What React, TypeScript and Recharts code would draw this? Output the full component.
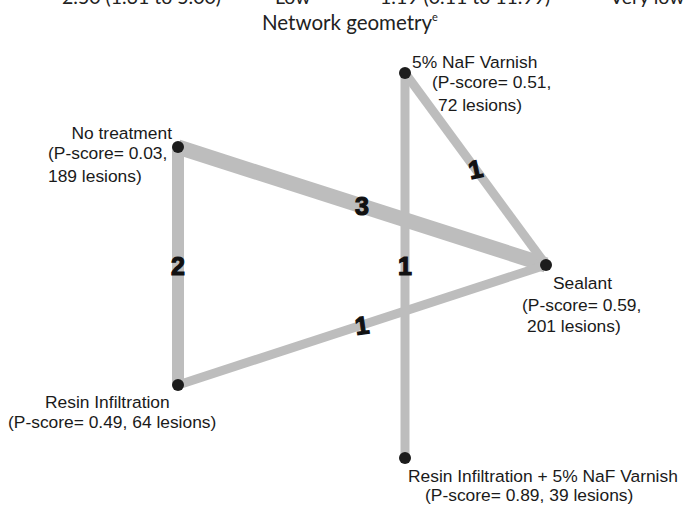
import React from "react";
import { ScatterChart, Scatter, XAxis, YAxis, ReferenceLine } from "recharts";

// Network nodes: layout position (x, y) in the figure's layout units
const nodeIds = ["noTx", "naf", "sealant", "resin", "resinNaf"];
const nodeX = [178, 405, 546, 178, 405];
const nodeY = [147, 73, 265, 385, 458];
const nodeNames = [
  "No treatment",
  "5% NaF Varnish",
  "Sealant",
  "Resin Infiltration",
  "Resin Infiltration + 5% NaF Varnish",
];
const pScores = ["0.03", "0.51", "0.59", "0.49", "0.89"];
const lesions = [189, 72, 201, 64, 39];

// Edges: pairs of node indices and number of studies
const edgeFrom = [0, 0, 1, 3, 1];
const edgeTo = [2, 3, 2, 2, 4];
const edgeStudies = [3, 2, 1, 1, 1];

// Text of the (cropped) table row above the title
const topRowTexts = ["2.50 (1.31 to 5.00)", "Low", "1.19 (0.11 to 11.99)", "Very low"];

// ---- styling / layout (not data) ----
const W = 683;
const H = 509;
const EDGE_COLOR = "#bdbdbd";
const widthFor = (n: number) => (n === 3 ? 15 : n === 2 ? 12 : 9);
const LABEL_FONT = "'Liberation Sans', Arial, sans-serif";
const LABEL_SIZE = 17.4;

type LineSpec = { dx: number; dy: number; anchor: "start" | "end" | "middle" };
const labelLayout: Record<string, LineSpec[]> = {
  noTx: [
    { dx: -6, dy: -8, anchor: "end" },
    { dx: -130, dy: 12, anchor: "start" },
    { dx: -130, dy: 35, anchor: "start" },
  ],
  naf: [
    { dx: 7, dy: -5, anchor: "start" },
    { dx: 27, dy: 15, anchor: "start" },
    { dx: 33, dy: 38, anchor: "start" },
  ],
  sealant: [
    { dx: 7, dy: 24, anchor: "start" },
    { dx: -24, dy: 46, anchor: "start" },
    { dx: -19, dy: 67, anchor: "start" },
  ],
  resin: [
    { dx: -133, dy: 23, anchor: "start" },
    { dx: -170, dy: 43, anchor: "start" },
  ],
  resinNaf: [
    { dx: 3, dy: 24, anchor: "start" },
    { dx: 20, dy: 43, anchor: "start" },
  ],
};
const topRowX = [62, 275, 380, 610];
const edgeLabelTilt = [0, 0, -12, -8, 0];

const nodes = nodeIds.map((id, i) => {
  const ps = `(P-score= ${pScores[i]},`;
  const les = `${lesions[i]} lesions)`;
  const lines =
    id === "resin" || id === "resinNaf"
      ? [nodeNames[i], `(P-score= ${pScores[i]}, ${les}`]
      : [nodeNames[i], ps, les];
  return { id, x: nodeX[i], y: nodeY[i], lines };
});

const edges = edgeFrom.map((f, i) => ({
  a: { x: nodeX[f], y: nodeY[f] },
  b: { x: nodeX[edgeTo[i]], y: nodeY[edgeTo[i]] },
  n: edgeStudies[i],
  tilt: edgeLabelTilt[i],
}));

const edgeMid = edges.map((e) => ({
  x: (e.a.x + e.b.x) / 2,
  y: (e.a.y + e.b.y) / 2,
  n: e.n,
  tilt: e.tilt,
}));

const NodeShape = (props: any) => {
  const { cx, cy, payload } = props;
  const layout = labelLayout[payload.id];
  return (
    <g>
      <circle cx={cx} cy={cy} r={6} fill="#1c1c1c" />
      {payload.lines.map((t: string, k: number) => (
        <text
          key={k}
          x={cx + layout[k].dx}
          y={cy + layout[k].dy}
          textAnchor={layout[k].anchor}
          fontFamily={LABEL_FONT}
          fontSize={LABEL_SIZE}
          fill="#1a1a1a"
        >
          {t}
        </text>
      ))}
    </g>
  );
};

const EdgeLabel = (props: any) => {
  const { cx, cy, payload } = props;
  return (
    <text
      x={cx}
      y={cy}
      textAnchor="middle"
      dominantBaseline="central"
      fontFamily={LABEL_FONT}
      fontWeight="bold"
      fontSize={25}
      fill="#111"
      stroke="#111"
      strokeWidth={1.2}
      transform={`rotate(${payload.tilt} ${cx} ${cy})`}
    >
      {payload.n}
    </text>
  );
};

export default function App() {
  return (
    <div style={{ position: "absolute", left: 0, top: 0, width: W, height: H, background: "#fff", overflow: "hidden" }}>
      <svg
        width={W}
        height={60}
        style={{ position: "absolute", left: 0, top: 0 }}
      >
        {topRowTexts.map((t, i) => (
          <text
            key={i}
            x={topRowX[i]}
            y={4}
            fontFamily="Lato, 'Open Sans', sans-serif"
            fontSize={19.5}
            fill="#222"
          >
            {t}
          </text>
        ))}
        <text
          x={262}
          y={30}
          textAnchor="start"
          fontFamily="Lato, 'Open Sans', sans-serif"
          fontSize={20.5}
          fill="#222"
        >
          Network geometry
          <tspan fontSize={11} dy={-9}>
            e
          </tspan>
        </text>
      </svg>
      <div style={{ position: "absolute", left: 0, top: 0 }}>
        <ScatterChart width={W} height={H} margin={{ top: 0, right: 0, bottom: 0, left: 0 }}>
          <XAxis type="number" dataKey="x" domain={[0, W]} hide allowDataOverflow />
          <YAxis type="number" dataKey="y" domain={[0, H]} reversed hide allowDataOverflow />
          {edges.map((e, i) => (
            <ReferenceLine
              key={i}
              segment={[e.a, e.b]}
              stroke={EDGE_COLOR}
              strokeWidth={widthFor(e.n)}
              ifOverflow="visible"
            />
          ))}
          <Scatter data={edgeMid} shape={<EdgeLabel />} isAnimationActive={false} />
          <Scatter data={nodes} shape={<NodeShape />} isAnimationActive={false} />
        </ScatterChart>
      </div>
    </div>
  );
}
